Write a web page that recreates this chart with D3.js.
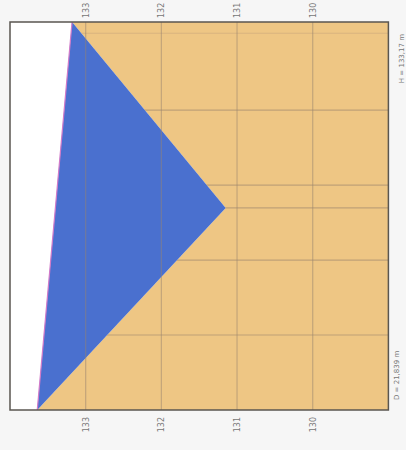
<!DOCTYPE html>
<html><head><meta charset="utf-8">
<script src="https://cdn.jsdelivr.net/npm/d3@7"></script>
<style>html,body{margin:0;padding:0;background:#f6f6f6;}svg{display:block;}</style>
</head><body>
<script>
// Data (chart is photographed rotated 90°)
const distanceKm = [0, 10.78, 20.7];          // profile points along path
const terrainElev = [133.64, 131.15, 133.18];  // terrain elevation (m)
const sightLine = [133.64, 133.18];            // line of sight at ends
const elevTicks = [133, 132, 131, 130];
const distGrid = [4, 8, 12, 16, 10.78, 20.1];
const labelD = "D = 21,839 m";
const labelH = "H = 133,17 m";

const W = 406, H = 450;
const svg = d3.select("body").append("svg").attr("width", W).attr("height", H);
const g = svg.append("g").attr("transform", `translate(0,${H}) rotate(-90)`);

const x = d3.scaleLinear().domain([0, 20.7]).range([40, 428]);
const y = d3.scaleLinear().domain([134, 129]).range([10, 388.4]);

const line = d3.line().x(d => x(d[0])).y(d => y(d[1]));
const terr = distanceKm.map((d, i) => [d, terrainElev[i]]);
const area = d3.area().x(d => x(d[0])).y0(y(129)).y1(d => y(d[1]));
const belowSight = [[0, sightLine[0]], [20.7, sightLine[1]], [20.7, 129], [0, 129]];

const defs = svg.append("defs");
defs.append("clipPath").attr("id", "cTerr").append("path").datum(terr).attr("d", area);
defs.append("clipPath").attr("id", "cSight").append("path").attr("d", line(belowSight) + "Z");

g.append("rect").attr("x", x(0)).attr("y", y(134)).attr("width", x(20.7) - x(0)).attr("height", y(129) - y(134)).attr("fill", "#ffffff");

g.append("path").datum(terr).attr("d", area).attr("fill", "#eec684");
const blue = [[0, sightLine[0]], [20.7, sightLine[1]], [distanceKm[1], terrainElev[1]]];
g.append("path").attr("d", line(blue) + "Z").attr("fill", "#4a70cf");

const gridS = g.append("g").attr("clip-path", "url(#cSight)").attr("stroke", "#9a8470").attr("stroke-width", 1.2);
gridS.selectAll("line").data(elevTicks).join("line")
  .attr("x1", x(0)).attr("x2", x(20.7)).attr("y1", d => y(d)).attr("y2", d => y(d))
  .attr("stroke-opacity", 0.5);
const gridT = g.append("g").attr("clip-path", "url(#cTerr)").attr("stroke", "#9a8470").attr("stroke-width", 1.2);
gridT.selectAll("line").data(distGrid).join("line")
  .attr("y1", y(134)).attr("y2", y(129)).attr("x1", d => x(d)).attr("x2", d => x(d))
  .attr("stroke-opacity", (d, i) => i === 5 ? 0.25 : 0.55);

g.append("line").attr("x1", x(0)).attr("y1", y(sightLine[0])).attr("x2", x(20.7)).attr("y2", y(sightLine[1]))
  .attr("stroke", "#d27ac8").attr("stroke-width", 1.2);

g.append("rect").attr("x", x(0)).attr("y", y(134)).attr("width", x(20.7) - x(0)).attr("height", y(129) - y(134))
  .attr("fill", "none").attr("stroke", "#5a5650").attr("stroke-width", 1.5);

const axL = d3.axisLeft(y).tickValues(elevTicks).tickSize(0).tickPadding(7).tickFormat(d3.format("d"));
const axR = d3.axisRight(y).tickValues(elevTicks).tickSize(0).tickPadding(4).tickFormat(d3.format("d"));
const gl = g.append("g").attr("transform", `translate(${x(0)},0)`).call(axL);
const gr = g.append("g").attr("transform", `translate(${x(20.7)},0)`).call(axR);
[gl, gr].forEach(a => {
  a.select(".domain").remove();
  a.selectAll("text").attr("font-family", "DejaVu Sans").attr("font-size", 8).attr("fill", "#777");
});

g.append("text").attr("x", x(0) + 10).attr("y", 399).attr("font-family", "DejaVu Sans").attr("font-size", 7)
  .attr("fill", "#777").text(labelD);
g.append("text").attr("x", x(20.7) - 12).attr("y", 404).attr("text-anchor", "end").attr("font-family", "DejaVu Sans")
  .attr("font-size", 7).attr("fill", "#777").text(labelH);
</script>
</body></html>
